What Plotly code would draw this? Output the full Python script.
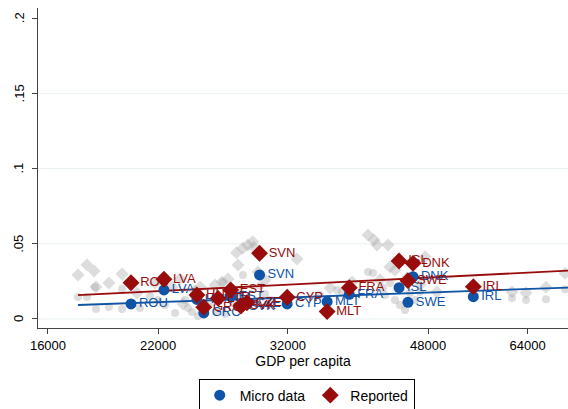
import plotly.graph_objects as go

# Highlighted countries: GDP per capita, micro-data estimate, reported estimate
countries = ["ROU", "LVA", "HUN", "GRC", "LTU", "EST", "SVK", "CZE", "SVN",
             "CYP", "MLT", "FRA", "ISL", "SWE", "DNK", "IRL"]
gdp = [20340, 22370, 24610, 25100, 26160, 27130, 27940, 28430, 29490,
       31940, 35850, 38220, 44130, 45280, 45950, 54700]
micro = [0.0100, 0.0193, 0.0130, 0.0040, 0.0140, 0.0150, 0.0080, 0.0100, 0.0293,
         0.0100, 0.0115, 0.0164, 0.0208, 0.0111, 0.0281, 0.0148]
reported = [0.0241, 0.0264, 0.0159, 0.0078, 0.0137, 0.0193, 0.0086, 0.0108, 0.0437,
            0.0144, 0.0049, 0.0208, 0.0386, 0.0255, 0.0370, 0.0215]

# Other country-years shown in the background
bg_rep_gdp = [17450, 17910, 18280, 19080, 19820, 18380, 20690, 21800, 22900, 23430,
              24470, 24830, 25930, 26460, 26920, 23640, 27600, 28090, 28500, 28910,
              29020, 32860, 27710, 29360, 29960, 36150, 38520, 40350, 41050, 41410,
              42750, 42990, 47570, 49250, 45160, 41770, 43620, 46880, 61160, 63690,
              67480, 71290]
bg_rep_val = [0.0293, 0.0359, 0.0319, 0.0239, 0.0299, 0.0213, 0.0173, 0.0239, 0.0213, 0.0266,
              0.0186, 0.0213, 0.0226, 0.0246, 0.0266, 0.0100, 0.0441, 0.0470, 0.0492, 0.0514,
              0.0477, 0.0399, 0.0359, 0.0312, 0.0259, 0.0206, 0.0246, 0.0559, 0.0525, 0.0492,
              0.0492, 0.0346, 0.0414, 0.0180, 0.0273, 0.0259, 0.0326, 0.0226, 0.0180, 0.0175,
              0.0211, 0.0304]
bg_mic_gdp = [17450, 17910, 18380, 19080, 19820, 19820, 20870, 18330, 21490, 21990,
              22440, 23770, 23980, 24260, 24680, 25190, 25550, 26000, 26690, 27310,
              26530, 28110, 27870, 29530, 29960, 30390, 23100, 35120, 36890, 37420,
              40350, 40930, 42990, 43620, 44250, 42380, 45550, 46210, 42130, 46880,
              44900, 61160, 63690, 67480, 71290]
bg_mic_val = [0.0146, 0.0146, 0.0066, 0.0080, 0.0066, 0.0199, 0.0073, 0.0213, 0.0153, 0.0126,
              0.0093, 0.0126, 0.0073, 0.0047, 0.0020, 0.0066, 0.0106, 0.0047, 0.0033, 0.0106,
              0.0246, 0.0293, 0.0180, 0.0219, 0.0166, 0.0126, 0.0040, 0.0160, 0.0193, 0.0180,
              0.0312, 0.0306, 0.0239, 0.0126, 0.0093, 0.0160, 0.0173, 0.0126, 0.0206, 0.0180,
              0.0060, 0.0140, 0.0126, 0.0131, 0.0197]

# Linear fits (against log GDP), evaluated at the ends of the GDP range
fit_gdp = [17450, 72000]
fit_micro = [0.0093, 0.0209]
fit_reported = [0.0158, 0.0322]

x_ticks = [16000, 22000, 32000, 48000, 64000]
x_ticktext = ["16000", "22000", "32000", "48000", "64000"]
y_ticks = [0, 0.05, 0.1, 0.15, 0.2]
y_ticktext = ["0", ".05", ".1", ".15", ".2"]

BLUE = "#0f54a6"
RED = "#980c0c"
GRAY = "rgba(170,170,170,0.4)"
FONT = "Liberation Sans, Arial, sans-serif"

fig = go.Figure()

fig.add_trace(go.Scatter(x=bg_rep_gdp, y=bg_rep_val, mode="markers", showlegend=False,
                         marker=dict(symbol="diamond", size=10, color=GRAY, line=dict(width=0)),
                         hoverinfo="skip"))
fig.add_trace(go.Scatter(x=bg_mic_gdp, y=bg_mic_val, mode="markers", showlegend=False,
                         marker=dict(symbol="circle", size=8, color=GRAY, line=dict(width=0)),
                         hoverinfo="skip"))

fig.add_trace(go.Scatter(x=fit_gdp, y=fit_micro, mode="lines", showlegend=False,
                         line=dict(color=BLUE, width=1.8)))
fig.add_trace(go.Scatter(x=fit_gdp, y=fit_reported, mode="lines", showlegend=False,
                         line=dict(color=RED, width=1.8)))

fig.add_trace(go.Scatter(x=gdp, y=micro, mode="markers+text", name="Micro data",
                         text=countries, textposition="middle right",
                         textfont=dict(color=BLUE, size=13, family=FONT),
                         marker=dict(symbol="circle", size=11, color=BLUE, line=dict(width=0))))
fig.add_trace(go.Scatter(x=gdp, y=reported, mode="markers+text", name="Reported",
                         text=countries, textposition="middle right",
                         textfont=dict(color=RED, size=13, family=FONT),
                         marker=dict(symbol="diamond", size=13, color=RED, line=dict(width=0))))

# horizontal grid at interior y ticks
for v in y_ticks[:-1]:
    fig.add_shape(type="line", xref="paper", x0=0, x1=1, yref="y", y0=v, y1=v,
                  line=dict(color="#e8f0f1", width=1), layer="below")

# vertical y tick labels, set just left of the tick marks
for v, t in zip(y_ticks, y_ticktext):
    fig.add_annotation(x=0, xref="paper", y=v, yref="y", text=t, textangle=-90,
                       showarrow=False, xanchor="center", yanchor="middle", xshift=-19,
                       font=dict(size=13, family=FONT, color="black"))

fig.update_layout(
    width=568, height=409,
    margin=dict(l=38, r=0, t=8, b=81, autoexpand=False),
    paper_bgcolor="white", plot_bgcolor="white",
    font=dict(family=FONT, size=13, color="black"),
    legend=dict(orientation="h", x=0.507, xanchor="center", y=-0.158, yanchor="top",
                bordercolor="black", borderwidth=1, font=dict(size=14),
                itemwidth=30, tracegroupgap=0),
    xaxis=dict(type="log", range=[4.1916, 4.8568], tickvals=x_ticks, ticktext=x_ticktext,
               ticks="outside", ticklen=5, tickcolor="#444", showgrid=False, zeroline=False,
               showline=True, linecolor="#444", linewidth=1, automargin=False,
               title=dict(text="GDP per capita", standoff=4, font=dict(size=14))),
    yaxis=dict(range=[-0.006, 0.2068], tickvals=y_ticks, showticklabels=False,
               ticks="outside", ticklen=5, tickcolor="#444", automargin=False,
               showgrid=False, zeroline=False, showline=True, linecolor="#444", linewidth=1),
)

fig.write_html("out.html")
